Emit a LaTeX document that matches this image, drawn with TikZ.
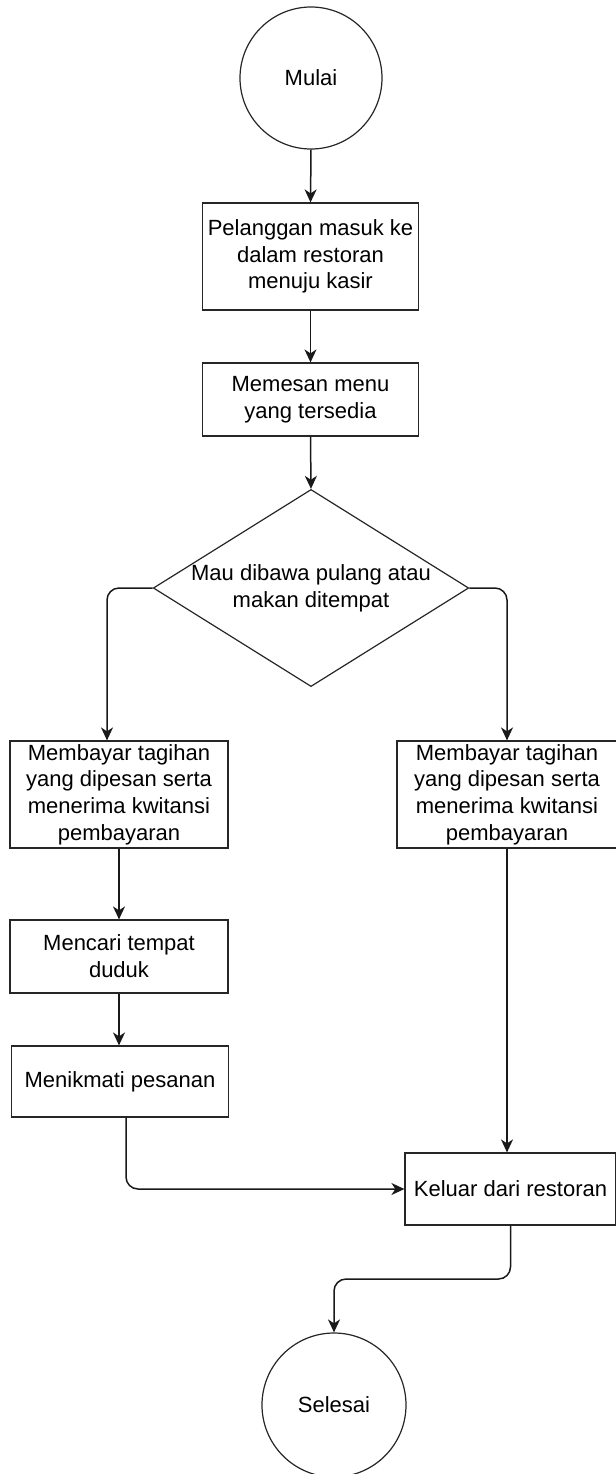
\documentclass[tikz,border=0pt]{standalone}
\usepackage{fontspec}
\setmainfont{Liberation Sans}
\usetikzlibrary{arrows.meta,positioning,shapes.geometric,calc}

\begin{document}
\begin{tikzpicture}[x=0.5pt,y=-0.5pt,
  font=\fontsize{11}{13.4}\selectfont,>={Stealth[length=6.5pt,width=6pt,inset=2pt]},
  terminal/.style={circle,draw=black!85,line width=.6pt,minimum size=71pt,inner sep=0pt,align=center},
  process/.style={rectangle,draw=black!85,line width=.6pt,minimum width=108pt,inner sep=1pt,align=center},
  decision/.style={diamond,draw=black!85,line width=.6pt,aspect=1.6,inner sep=0pt,minimum width=156pt,minimum height=98.5pt,align=center},
  flow/.style={->,line width=.75pt,draw=black!90,rounded corners=6pt}
]
\useasboundingbox (0,0) rectangle (616,1474);
% Main line runs down the middle; the decision splits into two columns that meet again at the exit.
\node[terminal] (start) at (311,78) {Mulai};
\node[process,minimum height=53.5pt] (enter) at (310.5,256.5) {Pelanggan masuk ke\\dalam restoran\\menuju kasir};
\node[process,minimum height=36.5pt] (order) at (310.5,399.5) {Memesan menu\\yang tersedia};
\node[decision] (choice) at (311,588) {Mau dibawa pulang atau\\makan ditempat};
\node[process,minimum height=53.5pt,minimum width=109pt] (payleft) at (119,794.5) {Membayar tagihan\\yang dipesan serta\\menerima kwitansi\\pembayaran};
\node[process,minimum height=53.5pt,minimum width=110pt] (payright) at (507,794.5) {Membayar tagihan\\yang dipesan serta\\menerima kwitansi\\pembayaran};
\node[process,minimum height=36.5pt,minimum width=109pt] (seat) at (119,956.5) {Mencari tempat\\duduk};
\node[process,minimum height=35.5pt,minimum width=108.5pt] (eat) at (120,1081.5) {Menikmati pesanan};
\node[process,minimum height=36pt,minimum width=105.5pt] (leave) at (510.5,1189) {Keluar dari restoran};
\node[terminal,minimum size=72pt] (finish) at (334,1405) {Selesai};
\coordinate (bend) at ($(leave.south)!.5!(finish.north)$);
\draw[flow] (start.south) -- (enter.north);
\draw[flow] (enter.south) -- (order.north);
\draw[flow] (order.south) -- (choice.north);
\draw[flow] (choice.west) -| ([xshift=-6]payleft.north);
\draw[flow] (choice.east) -| (payright.north);
\draw[flow] (payleft.south) -- (seat.north);
\draw[flow] (seat.south) -- (seat.south |- eat.north);
\draw[flow] (payright.south) -- (payright.south |- leave.north);
\draw[flow] ([xshift=3]eat.south) |- (leave.west);
\draw[flow] (leave.south) |- (bend) -| (finish.north);
\end{tikzpicture}
\end{document}
